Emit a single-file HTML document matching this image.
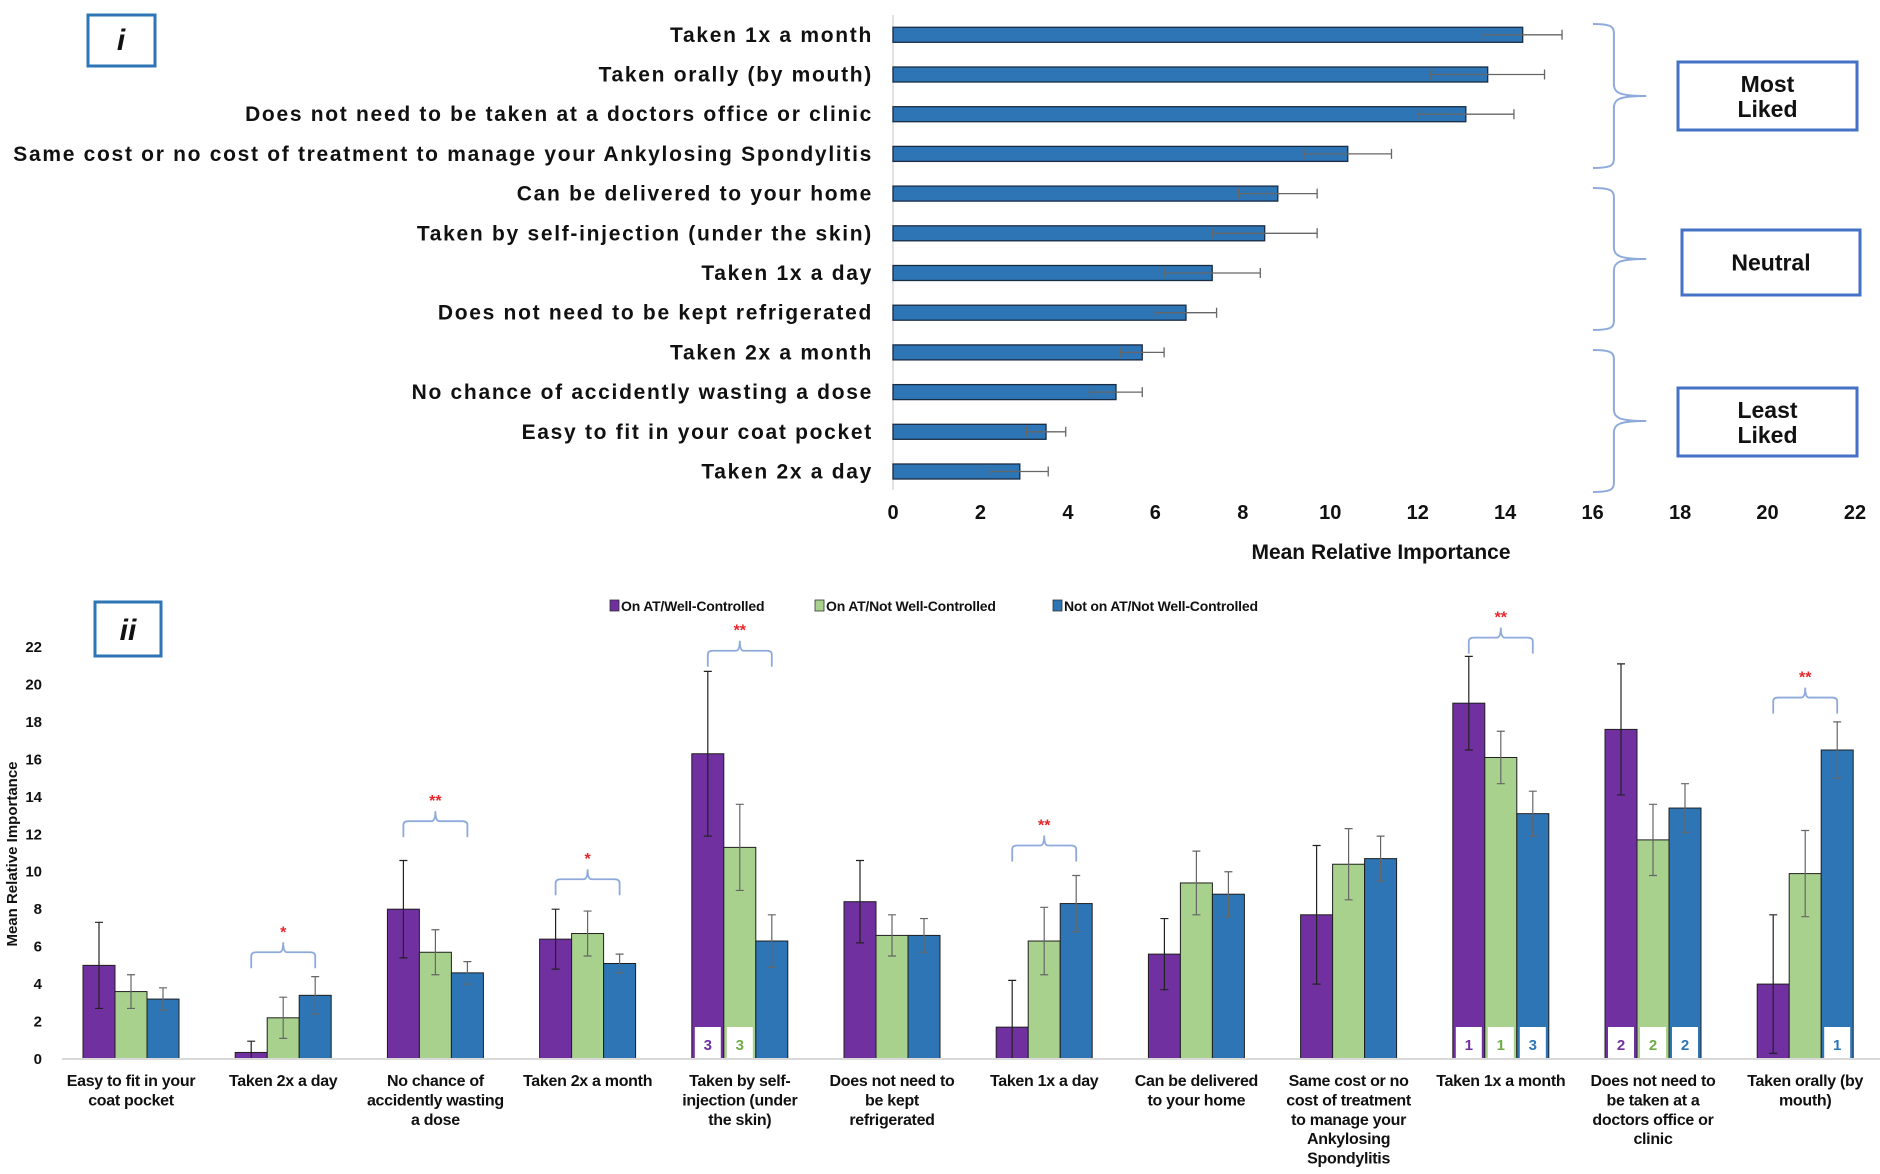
<!DOCTYPE html>
<html><head><meta charset="utf-8"><style>
html,body{margin:0;padding:0;background:#fff;}
svg{display:block;font-family:"Liberation Sans",Arial,sans-serif;}
</style></head><body>
<svg id="chart" width="1880" height="1174" viewBox="0 0 1880 1174" xmlns="http://www.w3.org/2000/svg">
<g id="top"></g>
<g id="bottom"></g>
</svg>
<script>
// ---------- Panel i data ----------
const topLabels = ["Taken 1x a month","Taken orally (by mouth)","Does not need to be taken at a doctors office or clinic","Same cost or no cost of treatment to manage your Ankylosing Spondylitis","Can be delivered to your home","Taken by self-injection (under the skin)","Taken 1x a day","Does not need to be kept refrigerated","Taken 2x a month","No chance of accidently wasting a dose","Easy to fit in your coat pocket","Taken 2x a day"];
const topValues = [14.4,13.6,13.1,10.4,8.8,8.5,7.3,6.7,5.7,5.1,3.5,2.9];
const topErrors = [0.9,1.3,1.1,1.0,0.9,1.2,1.1,0.7,0.5,0.6,0.45,0.65];
const topTicks = [0,2,4,6,8,10,12,14,16,18,20,22];

// ---------- Panel ii data ----------
const categories = [["Easy to fit in your","coat pocket"],["Taken 2x a day"],["No chance of","accidently wasting","a dose"],["Taken 2x a month"],["Taken by self-","injection (under","the skin)"],["Does not need to","be kept","refrigerated"],["Taken 1x a day"],["Can be delivered","to your home"],["Same cost or no","cost of treatment","to manage your","Ankylosing","Spondylitis"],["Taken 1x a month"],["Does not need to","be taken at a","doctors office or","clinic"],["Taken orally (by","mouth)"]];
const seriesNames = ["On AT/Well-Controlled","On AT/Not Well-Controlled","Not on AT/Not Well-Controlled"];
const wellCtrl = [5.0,0.35,8.0,6.4,16.3,8.4,1.7,5.6,7.7,19.0,17.6,4.0];
const notWellCtrl = [3.6,2.2,5.7,6.7,11.3,6.6,6.3,9.4,10.4,16.1,11.7,9.9];
const notOnAT = [3.2,3.4,4.6,5.1,6.3,6.6,8.3,8.8,10.7,13.1,13.4,16.5];
const wellErr = [2.3,0.6,2.6,1.6,4.4,2.2,2.5,1.9,3.7,2.5,3.5,3.7];
const notWellErr = [0.9,1.1,1.2,1.2,2.3,1.1,1.8,1.7,1.9,1.4,1.9,2.3];
const notOnErr = [0.6,1.0,0.6,0.5,1.4,0.9,1.5,1.2,1.2,1.2,1.3,1.5];
const bottomTicks = [0,2,4,6,8,10,12,14,16,18,20,22];
const sigGroups = [1,2,3,4,6,9,11];
const sigStars = ["*","**","*","**","**","**","**"];
const sigLevel = [5.7,12.7,9.6,21.8,11.4,22.5,19.3];
const ranks = {4:["3","3",""],9:["1","1","3"],10:["2","2","2"],11:["","","1"]};

const NS="http://www.w3.org/2000/svg";
function mk(tag,attrs,parent,text){const e=document.createElementNS(NS,tag);for(const k in attrs)e.setAttribute(k,attrs[k]);if(text!==undefined)e.textContent=text;parent.appendChild(e);return e;}

// ---------- Panel i ----------
const T=document.getElementById('top');
const x0=893,x1=1855,xMax=22;
const xs=v=>x0+(v/xMax)*(x1-x0);
const rowY=i=>34.8+i*39.7;
let e;
e=mk('line',{x1:x0,y1:15,x2:x0,y2:490,stroke:'#d9d9d9','stroke-width':1.5},T);

topLabels.forEach((lab,i)=>{
  const y=rowY(i);
  e=mk('text',{x:873,y:y+7,'text-anchor':'end','font-size':21,'font-weight':'bold','letter-spacing':1.7,fill:'#111'},T,lab);
  
  e=mk('rect',{x:x0,y:y-7.5,width:xs(topValues[i])-x0,height:15,fill:'#2e75b6',stroke:'#1a2c44','stroke-width':1.3},T);
  
  const lo=xs(topValues[i]-topErrors[i]),hi=xs(topValues[i]+topErrors[i]);
  e=mk('path',{d:`M${lo},${y}H${hi}M${lo},${y-5}V${y+5}M${hi},${y-5}V${y+5}`,stroke:'#666','stroke-width':1.3,fill:'none'},T);
  
});
topTicks.forEach(t=>{
  e=mk('text',{x:xs(t),y:519,'text-anchor':'middle','font-size':20,'font-weight':'bold',fill:'#111'},T,t);
  
});
e=mk('text',{x:1381,y:559,'text-anchor':'middle','font-size':21,'font-weight':'bold',fill:'#111'},T,'Mean Relative Importance');

e=mk('rect',{x:88,y:15,width:67,height:51,fill:'#fff',stroke:'#2e75b6','stroke-width':3},T);

e=mk('text',{x:121,y:50,'text-anchor':'middle','font-size':30,'font-weight':'bold','font-style':'italic',fill:'#111'},T,'i');

function brace(y0,y1,x,w){const m=(y0+y1)/2;return `M${x},${y0} C${x+w*0.6},${y0} ${x+w*0.55},${y0+4} ${x+w*0.55},${y0+15} V${m-12} C${x+w*0.55},${m-3} ${x+w*0.7},${m} ${x+w*1.4},${m} C${x+w*0.7},${m} ${x+w*0.55},${m+3} ${x+w*0.55},${m+12} V${y1-15} C${x+w*0.55},${y1-4} ${x+w*0.6},${y1} ${x},${y1}`;}
const groups=[["Most","Liked",24,168,1678,62,1857,130],["Neutral","",188,330,1682,230,1860,295],["Least","Liked",350,492,1678,388,1857,456]];
groups.forEach(g=>{
  e=mk('path',{d:brace(g[2],g[3],1593,38),stroke:'#8eaadb','stroke-width':2,fill:'none'},T);
  
  e=mk('rect',{x:g[4],y:g[5],width:g[6]-g[4],height:g[7]-g[5],fill:'#fff',stroke:'#4472c4','stroke-width':3},T);
  
  const cx=(g[4]+g[6])/2,cy=(g[5]+g[7])/2;
  if(g[1]){
    e=mk('text',{x:cx,y:cy-4,'text-anchor':'middle','font-size':23,'font-weight':'bold',fill:'#111'},T,g[0]);
    
    e=mk('text',{x:cx,y:cy+21,'text-anchor':'middle','font-size':23,'font-weight':'bold',fill:'#111'},T,g[1]);
    
  } else {
    e=mk('text',{x:cx,y:cy+8,'text-anchor':'middle','font-size':23,'font-weight':'bold',fill:'#111'},T,g[0]);
    
  }
});

// ---------- Panel ii ----------
const B=document.getElementById('bottom');
const yb0=1059,yb22=647;
const ys=v=>yb0-(v/22)*(yb0-yb22);
const gx=i=>131+i*152.2;
const bw=32;
const colors=['#7030a0','#a9d18e','#2e75b6'];
const rankColors=['#7030a0','#70ad47','#2e75b6'];
const series=[wellCtrl,notWellCtrl,notOnAT];
const errs=[wellErr,notWellErr,notOnErr];
bottomTicks.forEach(t=>{
  e=mk('text',{x:42,y:ys(t)+5,'text-anchor':'end','font-size':15,'font-weight':'bold',fill:'#111'},B,t);
  
});
e=mk('text',{x:0,y:0,transform:'translate(17,854) rotate(-90)','text-anchor':'middle','font-size':15,'font-weight':'bold',fill:'#111'},B,'Mean Relative Importance');

categories.forEach((lines,i)=>{
  const c=gx(i);
  series.forEach((s,k)=>{
    const x=c-bw*1.5+k*bw;
    e=mk('rect',{x:x,y:ys(s[i]),width:bw,height:ys(0)-ys(s[i]),fill:colors[k],stroke:'#1f1f1f','stroke-width':1},B);
    
    const r=ranks[i];
    if(r&&r[k]){
      e=mk('rect',{x:x+3,y:ys(0)-32,width:bw-6,height:32,fill:'#fff'},B);
      
      e=mk('text',{x:x+bw/2,y:ys(0)-9,'text-anchor':'middle','font-size':15,'font-weight':'bold',fill:rankColors[k]},B,r[k]);
      
    }
    const hi=ys(s[i]+errs[k][i]),lo=ys(Math.max(0,s[i]-errs[k][i])),mx=x+bw/2;
    e=mk('path',{d:`M${mx},${hi}V${lo}M${mx-4},${hi}H${mx+4}M${mx-4},${lo}H${mx+4}`,stroke:k==0?'#222':'#666','stroke-width':1.2,fill:'none'},B);
    
  });
  lines.forEach((ln,j)=>{
    e=mk('text',{x:c,y:1086+j*19.4,'text-anchor':'middle','font-size':16,'font-weight':'bold','letter-spacing':-0.3,fill:'#111'},B,ln);
    
  });
});
e=mk('line',{x1:62,y1:yb0,x2:1880,y2:yb0,stroke:'#d9d9d9','stroke-width':2},B);

sigGroups.forEach((g,j)=>{
  const c=gx(g),l=c-bw,r=c+bw,yt=ys(sigLevel[j]),yb=yt+16;
  e=mk('path',{d:`M${l},${yb} V${yt+4} Q${l},${yt} ${l+5},${yt} H${c-4} Q${c},${yt} ${c},${yt-10} Q${c},${yt} ${c+4},${yt} H${r-5} Q${r},${yt} ${r},${yt+4} V${yb}`,stroke:'#8eaadb','stroke-width':1.8,fill:'none'},B);
  
  e=mk('text',{x:c,y:yt-15,'text-anchor':'middle','font-size':16,'font-weight':'bold',fill:'#e8262a'},B,sigStars[j]);
  
});
const legX=[610,815,1053];
seriesNames.forEach((n,k)=>{
  e=mk('rect',{x:legX[k],y:600,width:9,height:11,fill:colors[k],stroke:'#333','stroke-width':0.8},B);
  
  e=mk('text',{x:legX[k]+11,y:611,'font-size':14,'font-weight':'bold','letter-spacing':-0.2,fill:'#111'},B,n);
  
});
e=mk('rect',{x:95,y:602,width:66,height:54,fill:'#fff',stroke:'#2e75b6','stroke-width':3},B);

e=mk('text',{x:128,y:640,'text-anchor':'middle','font-size':30,'font-weight':'bold','font-style':'italic',fill:'#111'},B,'ii');

</script>
</body></html>
